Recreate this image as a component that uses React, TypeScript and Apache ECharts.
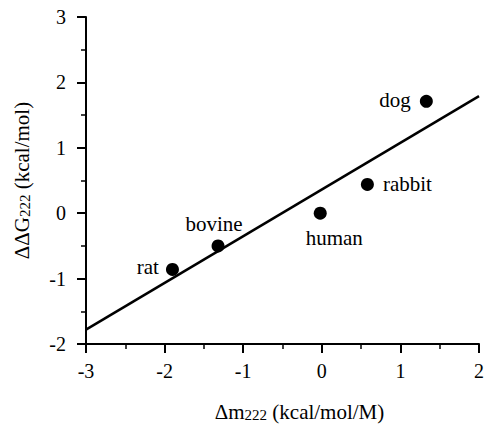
import React, { useEffect, useRef } from "react";
import * as echarts from "echarts";

const species = ["rat", "bovine", "human", "rabbit", "dog"];
const dm222 = [-1.9, -1.32, -0.02, 0.58, 1.33];
const ddg222 = [-0.86, -0.5, 0.0, 0.44, 1.71];
const fitX = [-3, 2];
const fitY = [-1.78, 1.79];
const xTicks = [-3, -2, -1, 0, 1, 2];
const yTicks = [-2, -1, 0, 1, 2, 3];

const FONT = "Liberation Serif";

const labelStyle: Record<string, any> = {
  rat: { position: "left", distance: 7, offset: [0, -2] },
  bovine: { position: "top", distance: 5, offset: [-4, 0] },
  human: { position: "bottom", distance: 8, offset: [14, 0] },
  rabbit: { position: "right", distance: 9, offset: [0, 0] },
  dog: { position: "left", distance: 9, offset: [0, -1] },
};

export default function App() {
  const ref = useRef<HTMLDivElement>(null);
  useEffect(() => {
    const chart = echarts.init(ref.current!, null, { renderer: "svg" });
    const labelText = { color: "#000", fontFamily: FONT, fontSize: 21 };
    const rich = {
      a: { fontFamily: FONT, fontSize: 21, color: "#000", verticalAlign: "bottom", lineHeight: 26 },
      s: { fontFamily: FONT, fontSize: 15, color: "#000", verticalAlign: "bottom", lineHeight: 19 },
    };
    const axisCommon = {
      type: "value",
      interval: 1,
      axisLine: { show: true, onZero: false, lineStyle: { color: "#000", width: 2 } },
      axisTick: { show: true, inside: false, length: 9, lineStyle: { color: "#000", width: 2 } },
      minorTick: { show: true, splitNumber: 2, length: 5, lineStyle: { color: "#000", width: 1.5 } },
      splitLine: { show: false },
    };
    chart.setOption({
      animation: false,
      backgroundColor: "#fff",
      textStyle: { fontFamily: FONT, color: "#000" },
      grid: { left: 86, right: 5, top: 17, bottom: 75, containLabel: false },
      xAxis: {
        ...axisCommon,
        min: xTicks[0],
        max: xTicks[xTicks.length - 1],
        axisLabel: { ...labelText, fontSize: 20, margin: 17 },
        name: "{a|Δm}{s|222}{a| (kcal/mol/M)}",
        nameLocation: "middle",
        nameGap: 52,
        nameTextStyle: {
          fontFamily: FONT,
          fontSize: 21,
          color: "#000",
          padding: [0, 0, 0, 34],
          rich,
        },
      },
      yAxis: {
        ...axisCommon,
        min: yTicks[0],
        max: yTicks[yTicks.length - 1],
        axisLabel: { ...labelText, fontSize: 20, margin: 20 },
        name: "{a|ΔΔG}{s|222}{a| (kcal/mol)}",
        nameLocation: "middle",
        nameGap: 54,
        nameRotate: 90,
        nameTextStyle: {
          fontFamily: FONT,
          fontSize: 21,
          color: "#000",
          rich,
        },
      },
      series: [
        {
          type: "line",
          data: fitX.map((x, i) => [x, fitY[i]]),
          symbol: "none",
          lineStyle: { color: "#000", width: 2.5 },
          z: 1,
        },
        {
          type: "scatter",
          symbolSize: 13,
          itemStyle: { color: "#000", opacity: 1 },
          z: 2,
          data: species.map((name, i) => ({
            name,
            value: [dm222[i], ddg222[i]],
            label: {
              show: true,
              formatter: name,
              ...labelText,
              ...labelStyle[name],
            },
          })),
        },
      ],
    });
    return () => chart.dispose();
  }, []);
  return (
    <div
      ref={ref}
      style={{ position: "absolute", left: 0, top: 0, width: 487, height: 427, background: "#fff" }}
    />
  );
}
